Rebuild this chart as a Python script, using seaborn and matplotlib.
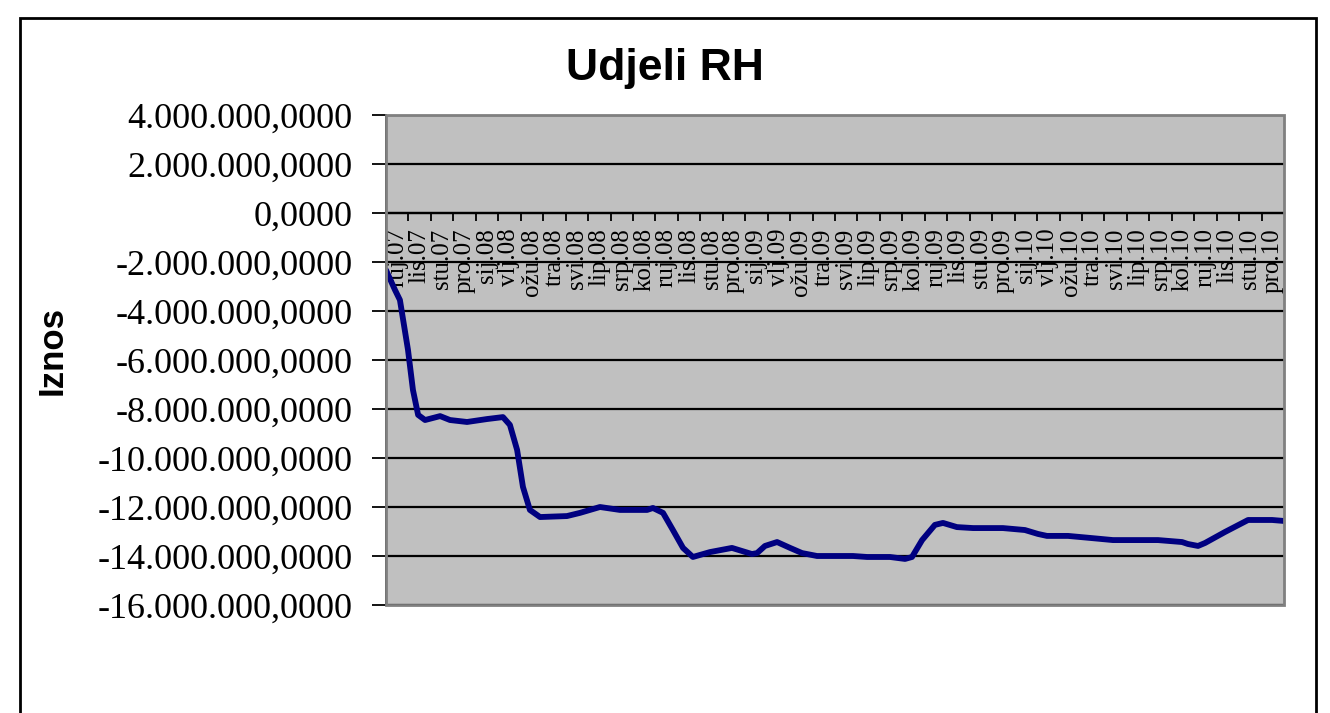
import matplotlib
matplotlib.use('Agg')
import matplotlib.pyplot as plt
import matplotlib.patches as mpatches
import seaborn as sns
import pandas as pd

# mjesecne oznake na osi x
mjeseci = ['ruj.07', 'lis.07', 'stu.07', 'pro.07',
           'sij.08', 'vlj.08', 'ožu.08', 'tra.08', 'svi.08', 'lip.08',
           'srp.08', 'kol.08', 'ruj.08', 'lis.08', 'stu.08', 'pro.08',
           'sij.09', 'vlj.09', 'ožu.09', 'tra.09', 'svi.09', 'lip.09',
           'srp.09', 'kol.09', 'ruj.09', 'lis.09', 'stu.09', 'pro.09',
           'sij.10', 'vlj.10', 'ožu.10', 'tra.10', 'svi.10', 'lip.10',
           'srp.10', 'kol.10', 'ruj.10', 'lis.10', 'stu.10', 'pro.10']

# polozaj u mjesecima od pocetka (procitano sa slike)
vrijeme = [0, 0.40, 0.62, 0.98, 1.20, 1.43, 1.74, 2.41, 2.85, 3.61, 4.50,
           5.21, 5.52, 5.84, 6.10, 6.41, 6.86, 8.06, 8.64, 9.53, 10.42,
           11.63, 11.89, 12.34, 12.78, 13.23, 13.67, 14.43, 15.41, 16.30,
           16.53, 16.88, 17.42, 18.0, 18.53, 19.20, 20.80, 21.43, 22.45,
           23.12, 23.43, 23.88, 24.45, 24.81, 25.43, 26.15, 26.90, 27.48,
           28.46, 29.04, 29.44, 30.38, 31.45, 32.38, 34.39, 35.46, 35.72,
           36.17, 36.48, 37.37, 38.40, 39.47, 40.0]

iznos = [-2330000, -3140000, -3550000, -5590000, -7220000, -8240000,
         -8450000, -8290000, -8450000, -8530000, -8410000, -8330000,
         -8650000, -9670000, -11180000, -12120000, -12410000, -12370000,
         -12240000, -12000000, -12120000, -12120000, -12040000, -12240000,
         -12940000, -13670000, -14040000, -13840000, -13670000, -13920000,
         -13880000, -13590000, -13430000, -13670000, -13880000, -14000000,
         -14000000, -14040000, -14040000, -14120000, -14040000, -13350000,
         -12730000, -12650000, -12820000, -12860000, -12860000, -12860000,
         -12940000, -13100000, -13180000, -13180000, -13270000, -13350000,
         -13350000, -13430000, -13510000, -13590000, -13470000, -13020000,
         -12530000, -12530000, -12570000]

y_ticks = list(range(-16000000, 4000001, 2000000))

df = pd.DataFrame({'t': vrijeme, 'iznos': iznos})

sns.set_theme(style='white')
plt.rcParams['font.family'] = ['Liberation Serif', 'DejaVu Serif']
plt.rcParams['text.color'] = 'black'
plt.rcParams['xtick.color'] = 'black'
plt.rcParams['ytick.color'] = 'black'
plt.rcParams['axes.labelcolor'] = 'black'

fig = plt.figure(figsize=(13.3, 7.13), dpi=100)
ax = fig.add_axes([386 / 1330, 1 - 605 / 713, 898 / 1330, 490 / 713])
ax.set_facecolor('#C0C0C0')

for v in y_ticks:
    ax.axhline(v, color='black', lw=1.6, zorder=1)

sns.lineplot(data=df, x='t', y='iznos', ax=ax, color='#000080', lw=4.2, zorder=3)

ax.set_xlim(0, 40)
ax.set_ylim(-16000000, 4000000)


def fmt(v, pos=None):
    s = f"{v:,.4f}"
    return s.replace(',', ' ').replace('.', ',').replace(' ', '.')


ax.set_yticks(y_ticks)
ax.set_yticklabels([fmt(v) for v in y_ticks], fontsize=26)
ax.tick_params(axis='y', direction='out', length=10, width=1.3, color='black', pad=14, left=True)

# os x sijece na nuli
ax.spines['bottom'].set_position(('data', 0))
ax.spines['bottom'].set_color('black')
ax.spines['bottom'].set_linewidth(1.6)
ax.spines['left'].set_color('black')
ax.spines['left'].set_linewidth(1.3)
for s in ['top', 'right']:
    ax.spines[s].set_visible(False)
ax.add_patch(mpatches.Rectangle((0, 0), 1, 1, transform=ax.transAxes, fill=False,
                                edgecolor='#808080', lw=2, zorder=5, clip_on=False))

ax.set_xticks([i + 0.5 for i in range(len(mjeseci))])
ax.set_xticklabels(mjeseci, rotation=90, fontsize=18, va='top', ha='center')
ax.set_xticks(list(range(1, 40)), minor=True)
ax.tick_params(axis='x', which='major', length=0, pad=11, bottom=True)
ax.tick_params(axis='x', which='minor', direction='out', length=6, width=1.3,
               color='black', bottom=True)
for lbl in ax.get_xticklabels():
    lbl.set_zorder(2)

ax.set_xlabel('')
ax.set_ylabel('Iznos', fontsize=25, fontweight='bold', family=['Liberation Sans', 'DejaVu Sans'])
ax.yaxis.set_label_coords(-0.353, 0.52)

fig.text(0.5, 1 - 80 / 713, 'Udjeli RH', ha='center', va='baseline', fontsize=32,
         fontweight='bold', family=['Liberation Sans', 'DejaVu Sans'])

fig.patches.append(mpatches.Rectangle((20 / 1330, -0.05), 1296 / 1330, 1.05 - 18 / 713,
                                      transform=fig.transFigure, fill=False,
                                      edgecolor='black', lw=2))

fig.savefig('out.png', dpi=100)
